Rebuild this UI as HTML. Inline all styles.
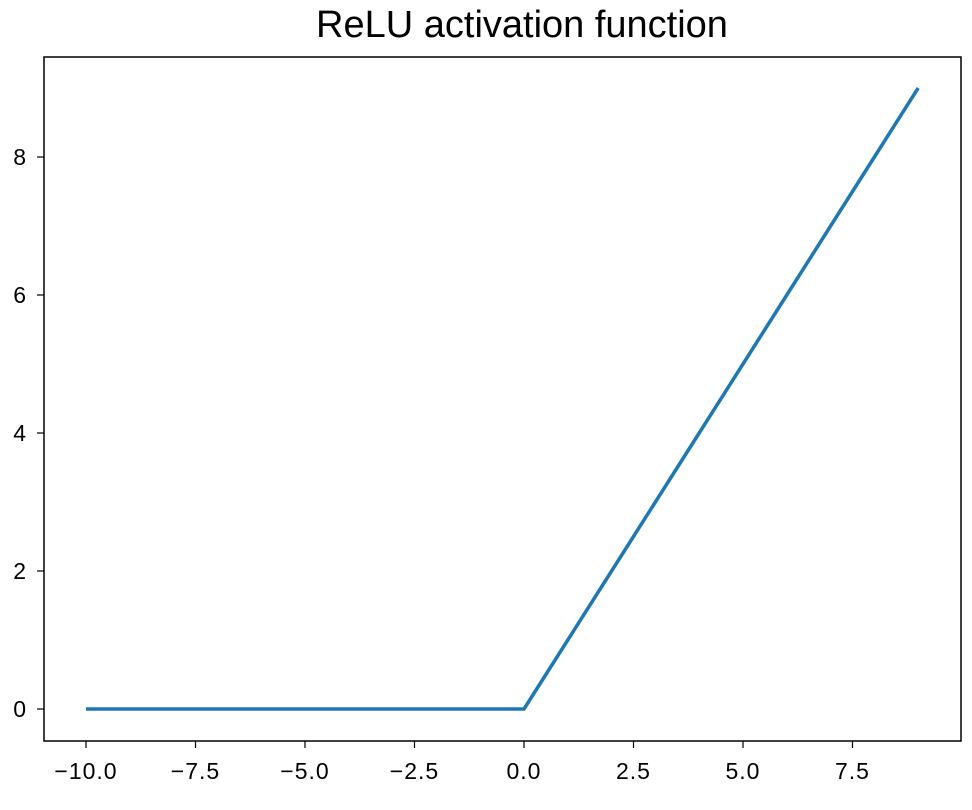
<!DOCTYPE html>
<html><head><meta charset="utf-8"><style>
body{margin:0;background:#fff;}
svg text{font-family:"Liberation Sans","DejaVu Sans",sans-serif;fill:#000;}
</style></head><body>
<svg id="chart" width="972" height="805">
<text x="522" y="37" font-size="38" text-anchor="middle">ReLU activation function</text>
<rect x="44" y="57" width="917" height="684" fill="none" stroke="#000" stroke-width="1.5"/>
<g id="xticks"></g><g id="yticks"></g>
<polyline id="line" fill="none" stroke="#1f77b4" stroke-width="3.5" stroke-linejoin="round"/>
</svg>
<script>
const xValues=[-10,-9,-8,-7,-6,-5,-4,-3,-2,-1,0,1,2,3,4,5,6,7,8,9];
const yValues=[0,0,0,0,0,0,0,0,0,0,0,1,2,3,4,5,6,7,8,9];
const xTicks=[-10,-7.5,-5,-2.5,0,2.5,5,7.5];
const xTickLabels=["\u221210.0","\u22127.5","\u22125.0","\u22122.5","0.0","2.5","5.0","7.5"];
const yTicks=[0,2,4,6,8];
const yTickLabels=["0","2","4","6","8"];
const sx=v=>524+43.8*v, sy=v=>709-69*v;
const NS="http://www.w3.org/2000/svg";
const xg=document.getElementById('xticks'), yg=document.getElementById('yticks');
xTicks.forEach((t,i)=>{
 const l=document.createElementNS(NS,'line');
 l.setAttribute('x1',sx(t));l.setAttribute('x2',sx(t));l.setAttribute('y1',741);l.setAttribute('y2',748);l.setAttribute('stroke','#000');l.setAttribute('stroke-width','1.2');
 
 
 xg.appendChild(l);
 const tx=document.createElementNS(NS,'text');
 tx.setAttribute('x',sx(t));tx.setAttribute('y',779);tx.setAttribute('font-size','23');tx.setAttribute('letter-spacing','1');tx.setAttribute('text-anchor','middle');
 tx.textContent=xTickLabels[i];
 
 
 xg.appendChild(tx);
});
yTicks.forEach((t,i)=>{
 const l=document.createElementNS(NS,'line');
 l.setAttribute('x1',37);l.setAttribute('x2',44);l.setAttribute('y1',sy(t));l.setAttribute('y2',sy(t));l.setAttribute('stroke','#000');l.setAttribute('stroke-width','1.2');
 
 
 yg.appendChild(l);
 const tx=document.createElementNS(NS,'text');
 tx.setAttribute('x',26);tx.setAttribute('y',sy(t)+8);tx.setAttribute('font-size','23');tx.setAttribute('text-anchor','end');
 tx.textContent=yTickLabels[i];
 
 
 yg.appendChild(tx);
});
document.getElementById('line').setAttribute('points',xValues.map((x,i)=>sx(x)+','+sy(yValues[i])).join(' '));
</script>
</body></html>
